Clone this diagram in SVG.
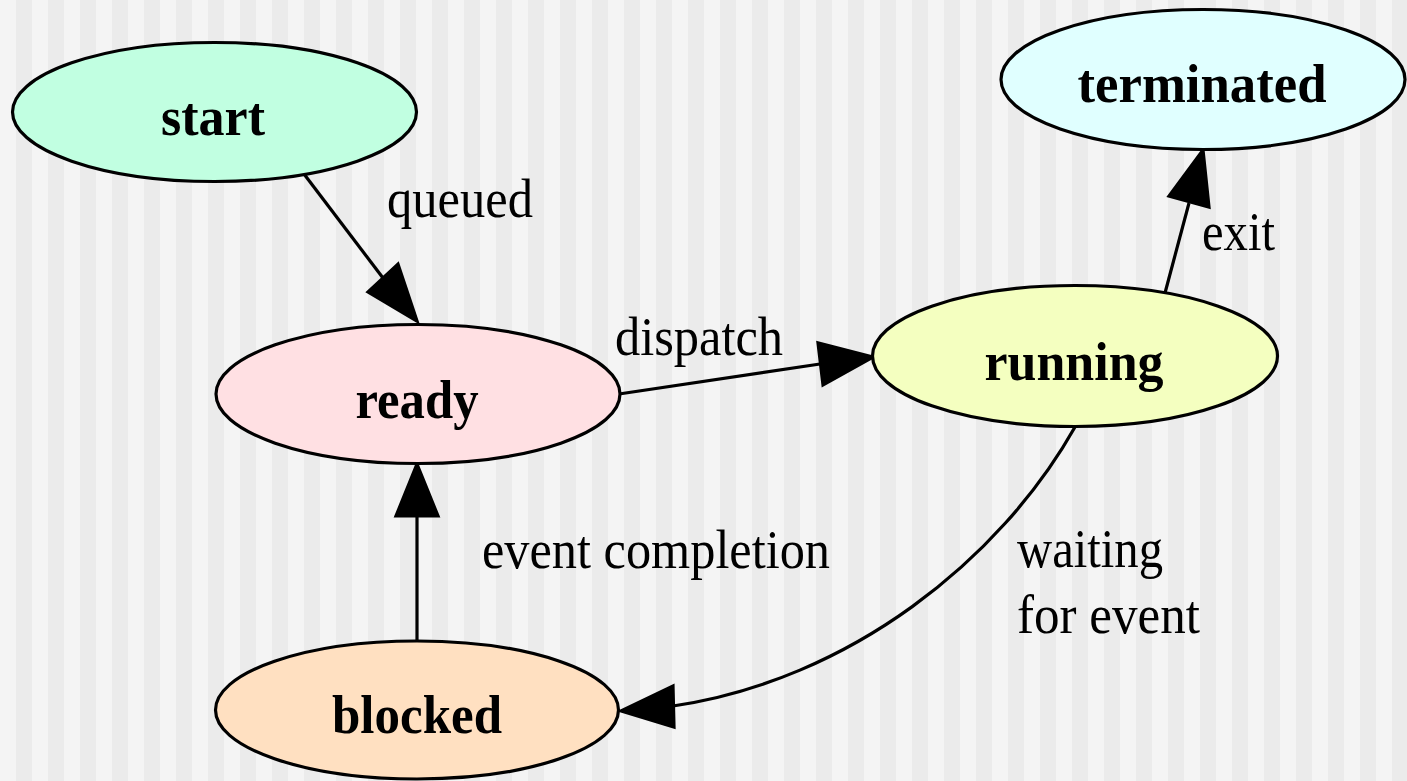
<svg xmlns="http://www.w3.org/2000/svg" width="1407" height="781" viewBox="0 0 1407 781">
<defs>
<style>
.node ellipse { stroke: #000; stroke-width: 3.2; }
.node text { font-family: "Liberation Serif", "Times New Roman", serif; font-weight: bold; font-size: 55px; fill: #000; text-anchor: middle; }
.edges path { fill: none; stroke: #000; stroke-width: 3.2; }
.edges polygon { fill: #000; stroke: #000; stroke-width: 3.2; stroke-linejoin: miter; }
.lbl { font-family: "Liberation Serif", "Times New Roman", serif; font-size: 55px; fill: #000; }
</style>
</defs>
<rect x="0" y="0" width="1407" height="781" fill="#f4f4f4"/>
<path fill="#ebebeb" d="M16,0h16v781h-16z M48,0h16v781h-16z M80,0h16v781h-16z M112,0h16v781h-16z M144,0h16v781h-16z M176,0h16v781h-16z M208,0h16v781h-16z M240,0h16v781h-16z M272,0h16v781h-16z M304,0h16v781h-16z M336,0h16v781h-16z M368,0h16v781h-16z M400,0h16v781h-16z M432,0h16v781h-16z M464,0h16v781h-16z M496,0h16v781h-16z M528,0h16v781h-16z M560,0h16v781h-16z M592,0h16v781h-16z M624,0h16v781h-16z M656,0h16v781h-16z M688,0h16v781h-16z M720,0h16v781h-16z M752,0h16v781h-16z M784,0h16v781h-16z M816,0h16v781h-16z M848,0h16v781h-16z M880,0h16v781h-16z M912,0h16v781h-16z M944,0h16v781h-16z M976,0h16v781h-16z M1008,0h16v781h-16z M1040,0h16v781h-16z M1072,0h16v781h-16z M1104,0h16v781h-16z M1136,0h16v781h-16z M1168,0h16v781h-16z M1200,0h16v781h-16z M1232,0h16v781h-16z M1264,0h16v781h-16z M1296,0h16v781h-16z M1328,0h16v781h-16z M1360,0h16v781h-16z M1392,0h16v781h-16z"/>
<g id="edges" class="edges">
<g id="e-start-ready">
<path d="M304,174 L383,278"/>
<polygon points="417,321 368,292 398,264"/>
<text class="lbl" x="387" y="217" textLength="146" lengthAdjust="spacingAndGlyphs">queued</text>
</g>
<g id="e-ready-running">
<path d="M619,394 L820,364"/>
<polygon points="873,357 823,385 818,343"/>
<text class="lbl" x="615" y="355" textLength="168" lengthAdjust="spacingAndGlyphs">dispatch</text>
</g>
<g id="e-running-terminated">
<path d="M1165,293 L1189,203"/>
<polygon points="1203,150 1209,207 1169,196"/>
<text class="lbl" x="1202" y="250" textLength="73" lengthAdjust="spacingAndGlyphs">exit</text>
</g>
<g id="e-blocked-ready">
<path d="M417,641 L417,517"/>
<polygon points="417,464 438,516 396,516"/>
<text class="lbl" x="482" y="568" textLength="348" lengthAdjust="spacingAndGlyphs">event completion</text>
</g>
<g id="e-running-blocked">
<path d="M1075,427 C1000,560 850,680 673,706"/>
<polygon points="621,711 673,686 674,727"/>
<text class="lbl" x="1017" y="567" textLength="146" lengthAdjust="spacingAndGlyphs">waiting</text>
<text class="lbl" x="1017" y="633" textLength="183" lengthAdjust="spacingAndGlyphs">for event</text>
</g>
</g>
<g id="start" class="node">
<ellipse cx="214.5" cy="112" rx="202" ry="69.5" fill="#c1ffe1"/>
<text x="213" y="135" textLength="104" lengthAdjust="spacingAndGlyphs">start</text>
</g>
<g id="ready" class="node">
<ellipse cx="418" cy="394" rx="202" ry="69.5" fill="#ffe0e3"/>
<text x="417" y="418" textLength="123" lengthAdjust="spacingAndGlyphs">ready</text>
</g>
<g id="running" class="node">
<ellipse cx="1075" cy="356" rx="202.5" ry="70.5" fill="#f4ffc0"/>
<text x="1074" y="380" textLength="179" lengthAdjust="spacingAndGlyphs">running</text>
</g>
<g id="terminated" class="node">
<ellipse cx="1203" cy="79.5" rx="202" ry="70" fill="#e0ffff"/>
<text x="1202" y="102" textLength="249" lengthAdjust="spacingAndGlyphs">terminated</text>
</g>
<g id="blocked" class="node">
<ellipse cx="417" cy="710" rx="201.5" ry="69" fill="#ffe0c1"/>
<text x="417" y="733" textLength="170" lengthAdjust="spacingAndGlyphs">blocked</text>
</g>
</svg>
